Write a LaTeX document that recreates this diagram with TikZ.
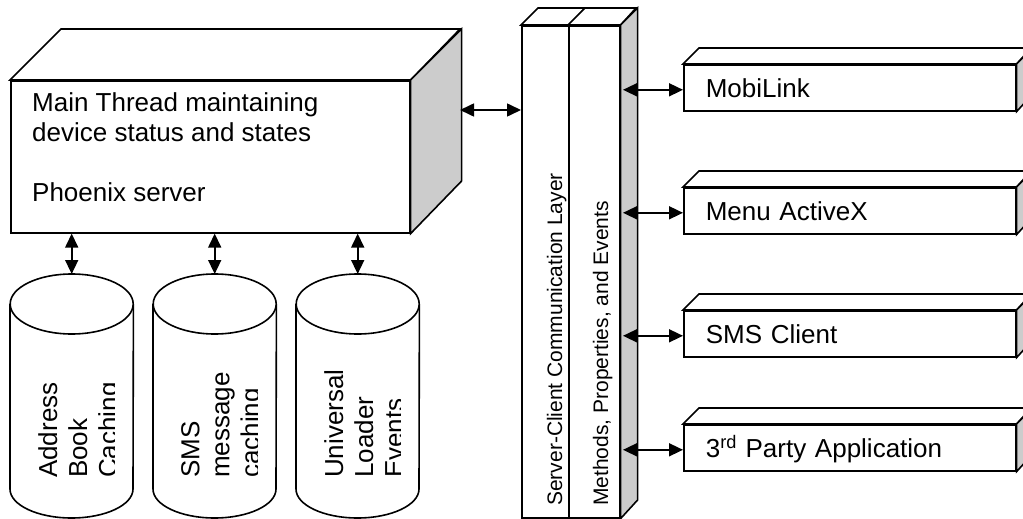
\documentclass[tikz,border=0pt]{standalone}
\usepackage{fontspec}
\setmainfont{Liberation Sans}
\usetikzlibrary{arrows.meta}
\definecolor{sidegray}{RGB}{204,204,204}
\begin{document}
\begin{tikzpicture}[x=1pt,y=-1pt,
  face/.style={draw, line width=1.6pt, fill=white},
  side/.style={draw, line width=1.6pt, fill=sidegray},
  biarrow/.style={line width=1.6pt, {Triangle[length=14pt,width=13pt]}-{Triangle[length=14pt,width=13pt]}},
  txt/.style={font=\fontsize{26}{30}\selectfont, inner sep=0pt},
  ltxt/.style={font=\fontsize{21}{24}\selectfont, inner sep=0pt, rotate=90, anchor=base west},
  client/.style={face, anchor=north west, minimum height=46pt, text width=288pt, inner xsep=22pt,
    align=left, text height=19pt, text depth=0pt, font=\fontsize{26}{30}\selectfont}
]
\useasboundingbox (0,0) rectangle (1023,519);

% main server box
\node[face, anchor=north west, inner sep=0pt, minimum width=399pt, minimum height=152pt] (main) at (10,80) {};
\draw[face] (main.north west) -- ++(51,-51) -- ++(399,0) -- (main.north east) -- cycle;
\draw[side] (main.north east) -- ++(51,-51) -- ++(0,152) -- (main.south east) -- cycle;
\node[txt, align=left, anchor=north west] (maintxt) at (32,92)
  {Main Thread maintaining\\device status and states\\[30pt]Phoenix server};

% cylinders
\foreach \L/\n/\t in {10/cylA/{Address\\Book\\Caching},153/cylB/{SMS\\message\\caching},296/cylC/{Universal\\Loader\\Events}}{
  \node[inner sep=0pt, minimum width=123pt, minimum height=244pt, anchor=north west] (\n) at (\L,274) {};
  \draw[face] (\n.north west |- 0,304) -- (\n.west |- 0,489)
     arc[start angle=180, end angle=360, x radius=61.5pt, y radius=29pt] -- (\n.north east |- 0,304);
  \draw[face] (\n.north |- 0,304) ellipse[x radius=61.5pt, y radius=30pt];
  \begin{scope}
    \clip (\L,274) rectangle (\L+104,519);
    \node[txt, rotate=90, align=left, anchor=north west] at (\L+28,478) {\t};
  \end{scope}
  \draw[biarrow] (\n.north |- main.south) -- (\n.north);
}

% communication layer
\node[face, anchor=north west, inner sep=0pt, minimum width=47pt, minimum height=492pt] (scl) at (521,25) {};
\node[face, anchor=north west, inner sep=0pt, minimum width=51pt, minimum height=492pt] (mpe) at (568,25) {};
\draw[face] (scl.north west) -- ++(17,-17) -- ++(47,0) -- (scl.north east) -- cycle;
\draw[face] (mpe.north west) -- ++(17,-17) -- ++(51,0) -- (mpe.north east) -- cycle;
\draw[side] (mpe.north east) -- ++(17,-17) -- ++(0,492) -- (mpe.south east) -- cycle;
\node[ltxt] (scltxt) at (562,506) {Server-Client Communication Layer};
\node[ltxt] (mpetxt) at (608,506) {Methods, Properties, and Events};

\coordinate (mainR) at (460,110);
\draw[biarrow] (mainR) -- (mainR -| scl.west);

% clients
\node[client] (mobi) at (683,64) {MobiLink};
\node[client] (menu) at (683,187) {Menu ActiveX};
\node[client] (sms) at (683,310) {SMS Client};
\node[client] (third) at (683,424) {3\textsuperscript{rd} Party Application};
\coordinate (sideface) at (623,0);
\foreach \b in {mobi,menu,sms,third}{
  \draw[face] (\b.north west) -- ++(16,-16) -- ++(332,0) -- (\b.north east) -- cycle;
  \draw[side] (\b.north east) -- ++(16,-16) -- ++(0,46) -- (\b.south east) -- cycle;
  \draw[biarrow] ([yshift=-2pt]\b.west -| sideface) -- ([yshift=-2pt]\b.west);
}
\end{tikzpicture}
\end{document}
